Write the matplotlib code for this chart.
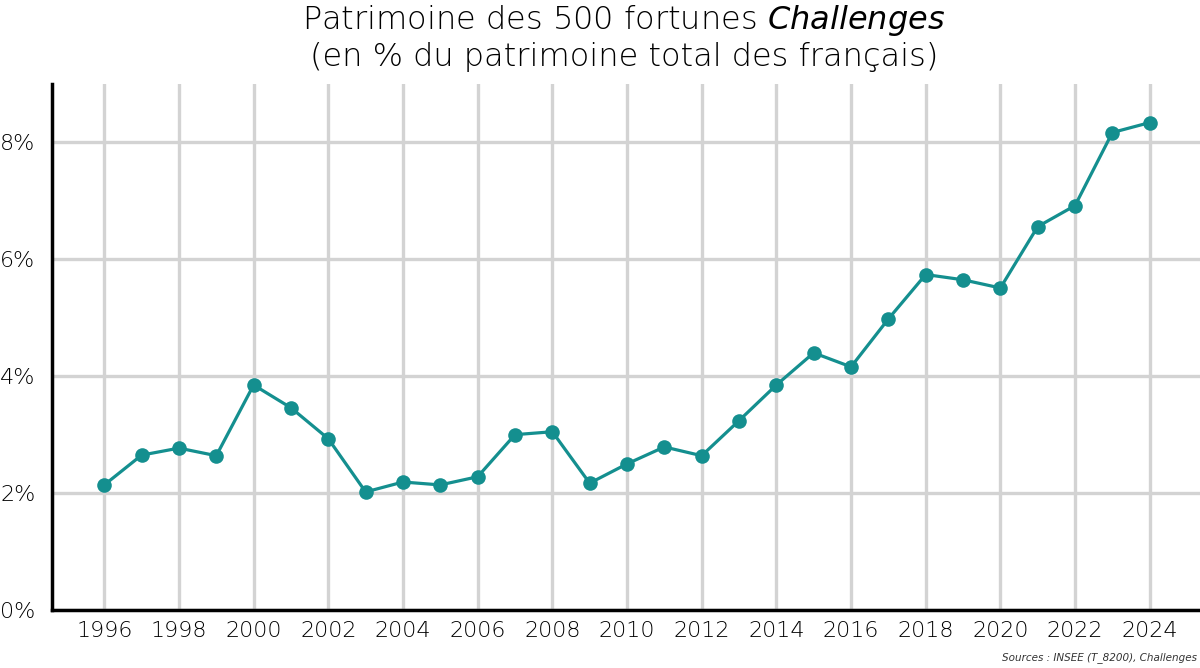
import matplotlib
matplotlib.use("Agg")
import matplotlib.pyplot as plt
from matplotlib.ticker import FuncFormatter

years = list(range(1996, 2025))
share_pct = [2.14, 2.65, 2.77, 2.64, 3.85, 3.46, 2.93, 2.02, 2.19, 2.14,
             2.28, 3.00, 3.05, 2.17, 2.50, 2.79, 2.64, 3.24, 3.85, 4.40,
             4.16, 4.98, 5.74, 5.65, 5.51, 6.56, 6.92, 8.17, 8.34]
xticks = list(range(1996, 2025, 2))
yticks = [0, 2, 4, 6, 8]

plt.rcParams['font.family'] = ['DejaVu Sans']
plt.rcParams['font.weight'] = 'light'
plt.rcParams['mathtext.fontset'] = 'custom'
plt.rcParams['mathtext.rm'] = 'DejaVu Sans:light'
plt.rcParams['mathtext.it'] = 'DejaVu Sans:italic:light'

fig = plt.figure(figsize=(12, 6.68), dpi=100)
ax = fig.add_axes([52/1200, 1-610/668, 1150/1200, (610-84)/668])

color = '#148f8f'
ax.plot(years, share_pct, color=color, lw=2.3, marker='o', ms=10.5,
        markeredgewidth=0, zorder=3, clip_on=False)

ax.set_xlim(1994.6, 2025.4)
ax.set_ylim(0, 9.0)
ax.set_xticks(xticks)
ax.set_yticks(yticks)
ax.yaxis.set_major_formatter(FuncFormatter(lambda v, p: f"{int(v)}%"))
ax.grid(True, color='#d3d3d3', lw=2.4, zorder=0)
ax.set_axisbelow(True)
ax.tick_params(length=0, labelsize=16, pad=8, labelcolor='black')
ax.tick_params(axis='y', pad=12)
for s in ['top', 'right']:
    ax.spines[s].set_visible(False)
for s in ['left', 'bottom']:
    ax.spines[s].set_linewidth(2.5)
    ax.spines[s].set_color('black')

fig.text(624/1200, 1-29/668, "Patrimoine des 500 fortunes $\\it{Challenges}$",
         ha='center', va='baseline', fontsize=23, color='black')
fig.text(624/1200, 1-66/668, "(en % du patrimoine total des français)",
         ha='center', va='baseline', fontsize=23, color='black')
fig.text(1197/1200, 1-660/668, "Sources : INSEE (T_8200), Challenges",
         ha='right', va='baseline', fontsize=7.5, style='italic', color='#333333')

fig.savefig("out.png", dpi=100)
